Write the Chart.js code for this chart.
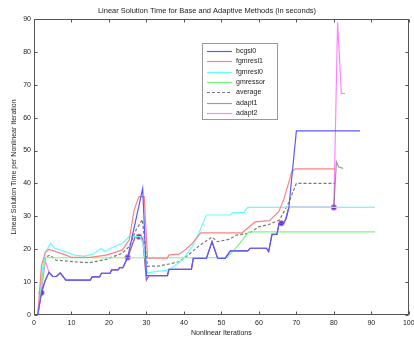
<!DOCTYPE html>
<html>
<head>
<meta charset="utf-8">
<script src="https://cdn.jsdelivr.net/npm/chart.js@4"></script>
<style>
  html, body { margin: 0; padding: 0; background: #fff; }
  canvas { display: block; }
</style>
</head>
<body>
<canvas id="solve-chart" width="414" height="339" style="width:414px;height:339px"></canvas>
<script>
// values (iteration, seconds)
const bcgsl0X = [1, 2, 3, 4, 5, 6, 7, 8.5, 15, 15.5, 17.5, 18, 20.3, 20.7, 22.4, 22.9, 23.7, 25, 29, 30, 35.6, 36, 42, 42.5, 46, 47.5, 49, 51, 52.4, 57, 57.7, 62, 62.6, 63.5, 64.8, 65.4, 66.6, 67.2, 68, 70, 87];
const bcgsl0Y = [0, 6.8, 10.5, 13, 11.7, 11.7, 12.8, 10.6, 10.6, 11.6, 11.6, 12.7, 12.7, 13.7, 13.7, 14.4, 14.4, 17.5, 38.5, 12, 12, 13.9, 13.9, 17.2, 17.2, 22.3, 17.2, 17.2, 19.5, 19.5, 20.3, 20.3, 19.3, 24.5, 24.5, 27.9, 27.9, 29.2, 32.7, 56, 56];

const fgmresl1X = [1, 2, 3, 4, 6, 8.6, 10, 15, 19.2, 21, 23.6, 25.4, 26.7, 28, 29.4, 30.3, 35.6, 36, 38.7, 40, 42, 44.5, 55.5, 59, 62.8, 65.3, 66.6, 67.9, 68.8, 69.7, 80.3];
const fgmresl1Y = [0, 15, 19, 20, 19.2, 18.2, 17.5, 17.5, 18.2, 18.8, 19.8, 22.8, 31.9, 36, 36, 17.3, 17.3, 18.3, 18.5, 19.5, 21.5, 25, 25, 28.3, 28.7, 31.4, 35, 40, 43.6, 44.4, 44.4];

const fgmresl0X = [1, 2, 3, 4.4, 5.5, 7.7, 10.8, 13.5, 15.7, 17.9, 18.8, 21, 23.6, 25.4, 28.4, 29.2, 30.2, 32.5, 36, 39.6, 42.2, 44, 46, 52.4, 53, 56, 57, 91];
const fgmresl0Y = [0, 12, 19, 21.8, 20.3, 19.5, 18.2, 17.9, 18.5, 20.3, 19.3, 20.6, 21.8, 23.8, 23.8, 21, 12.8, 13.2, 13.7, 16.7, 20.8, 25, 30.4, 30.4, 31.1, 31.1, 32.7, 32.7];

const gmressorX = [1, 2, 3, 51.5, 54.2, 57.3, 91];
const gmressorY = [0, 9, 17.4, 17.4, 20.8, 25.3, 25.3];

const averageX = [1, 2, 3, 4.2, 5.9, 10.4, 14.8, 19.2, 23.6, 25.4, 27.2, 28.9, 30.3, 33.4, 36, 38.7, 42, 44, 47.5, 48.9, 52, 54, 57.3, 60, 62.6, 65.5, 67.9, 70, 80.3];
const averageY = [0, 9.5, 17.5, 18.2, 16.7, 16.2, 15.9, 16.9, 18.8, 20.8, 25.8, 29, 14.8, 14.9, 15.5, 16.2, 19, 21, 23.7, 22.3, 23, 24.3, 24.8, 26.8, 27.5, 28.9, 34, 40, 40];

const adapt1X = [1, 2, 3, 4, 5, 6, 7, 8.5, 15, 15.5, 17.5, 18, 20.3, 20.7, 22.4, 22.9, 23.7, 25, 27, 28, 29, 30, 30.7, 35.6, 36, 42, 42.5, 46, 47.5, 49, 51, 52.4, 57, 57.7, 62, 62.6, 63.5, 64.8, 65.4, 66.6, 67.2, 68, 80, 80.7, 81.3, 82.5];
const adapt1Y = [0, 7, 10.5, 13, 11.7, 11.7, 12.8, 10.6, 10.6, 11.6, 11.6, 12.7, 12.7, 13.7, 13.7, 14.4, 14.4, 17.5, 23.8, 23.8, 23.3, 10.6, 12, 12, 13.9, 13.9, 17.2, 17.2, 22.3, 17.2, 17.2, 19.5, 19.5, 20.3, 20.3, 19.3, 24.5, 24.5, 27.9, 27.9, 29.2, 32.7, 32.7, 46.6, 45, 44.6];

const adapt2X = [1, 2, 3, 4, 5, 6, 7, 8.5, 15, 15.5, 17.5, 18, 20.3, 20.7, 22.4, 22.9, 23.7, 25, 27, 28, 29, 30, 30.7, 35.6, 36, 42, 42.5, 46, 47.5, 49, 51, 52.4, 57, 57.7, 62, 62.6, 63.5, 64.8, 65.4, 66.6, 67.2, 68, 80, 81, 82, 83];
const adapt2Y = [0, 7, 16.5, 13, 11.7, 11.7, 12.8, 10.6, 10.6, 11.6, 11.6, 12.7, 12.7, 13.7, 13.7, 14.4, 14.4, 17.5, 23.8, 23.8, 23.3, 10.6, 12, 12, 13.9, 13.9, 17.2, 17.2, 22.3, 17.2, 17.2, 19.5, 19.5, 20.3, 20.3, 19.3, 24.5, 24.5, 27.9, 27.9, 29.2, 32.7, 32.7, 89, 67.4, 67.4];

// switch points marked on the adaptive curves
const switchX = [2, 25, 28, 66, 80];
const switchY = [6.8, 17.5, 23.8, 27.9, 32.7];

const xTicks = [0, 10, 20, 30, 40, 50, 60, 70, 80, 90, 100];
const yTicks = [0, 10, 20, 30, 40, 50, 60, 70, 80, 90];

const FONT = '"Liberation Sans", Arial, sans-serif';

function pts(xs, ys) {
    return xs.map((x, i) => ({x: x, y: ys[i]}));
}

function line(label, xs, ys, color, extra) {
    return Object.assign({
        label: label,
        data: pts(xs, ys),
        borderColor: color,
        backgroundColor: color,
        borderWidth: 1.2,
        pointRadius: 0,
        tension: 0,
        fill: false,
    }, extra || {});
}

const datasets = [
    line('bcgsl0', bcgsl0X, bcgsl0Y, 'rgb(90,90,255)'),
    line('fgmresl1', fgmresl1X, fgmresl1Y, 'rgb(255,130,130)'),
    line('fgmresl0', fgmresl0X, fgmresl0Y, 'rgb(100,255,255)'),
    line('gmressor', gmressorX, gmressorY, 'rgb(120,250,120)'),
    line('average', averageX, averageY, 'rgb(120,120,120)', {borderDash: [3, 2]}),
    line('adapt1', adapt1X, adapt1Y, 'rgba(60,60,60,0.5)'),
    line('adapt2', adapt2X, adapt2Y, 'rgba(255,50,255,0.6)'),
    {
        label: 'switch',
        type: 'scatter',
        data: pts(switchX, switchY),
        showLine: false,
        pointRadius: 2.5,
        pointBackgroundColor: 'rgb(70,50,240)',
        pointBorderColor: 'rgba(255,90,120,0.8)',
        pointBorderWidth: 1.2,
    },
];

// matlab style box, inward ticks and legend
const boxPlugin = {
    id: 'box',
    afterDraw(chart) {
        const {ctx, chartArea: a, scales} = chart;
        ctx.save();
        ctx.strokeStyle = '#555';
        ctx.lineWidth = 1;
        const L = Math.round(a.left) + 0.5, R = Math.round(a.right) - 0.5;
        const T = Math.round(a.top) + 0.5, B = Math.round(a.bottom) - 0.5;
        ctx.strokeRect(L, T, R - L, B - T);
        ctx.beginPath();
        xTicks.forEach(v => {
            const px = Math.round(scales.x.getPixelForValue(v)) + 0.5;
            ctx.moveTo(px, B); ctx.lineTo(px, B - 3);
            ctx.moveTo(px, T); ctx.lineTo(px, T + 3);
        });
        yTicks.forEach(v => {
            const py = Math.round(scales.y.getPixelForValue(v)) + 0.5;
            ctx.moveTo(L, py); ctx.lineTo(L + 3, py);
            ctx.moveTo(R, py); ctx.lineTo(R - 3, py);
        });
        ctx.stroke();

        // legend box
        const lx = 202, ly = 43, lw = 75, lh = 76;
        ctx.fillStyle = '#fff';
        ctx.fillRect(lx, ly, lw, lh);
        ctx.strokeStyle = '#999';
        ctx.strokeRect(lx + 0.5, ly + 0.5, lw, lh);
        ctx.font = '7px ' + FONT;
        ctx.textBaseline = 'middle';
        chart.data.datasets.slice(0, 7).forEach((ds, i) => {
            const y = Math.round(ly + 7.7 + i * 10.4) + 0.5;
            ctx.strokeStyle = ds.borderColor;
            ctx.lineWidth = 1.2;
            ctx.setLineDash(ds.borderDash || []);
            ctx.beginPath();
            ctx.moveTo(207, y); ctx.lineTo(232, y);
            ctx.stroke();
            ctx.setLineDash([]);
            ctx.fillStyle = '#222';
            ctx.fillText(ds.label, 236, y);
        });
        ctx.restore();
    }
};

const solveChart = new Chart(document.getElementById('solve-chart'), {
    type: 'line',
    data: {datasets: datasets},
    options: {
        responsive: false,
        animation: false,
        devicePixelRatio: 1,
        layout: {padding: {left: 0, right: 0, top: 0, bottom: 0}},
        plugins: {
            legend: {display: false},
            tooltip: {enabled: false},
            title: {
                display: true,
                text: 'Linear Solution Time for Base and Adaptive Methods (in seconds)',
                color: '#222',
                font: {family: FONT, size: 7.5, weight: 'normal'},
                padding: {top: 6, bottom: 4}
            }
        },
        scales: {
            x: {
                type: 'linear',
                min: 0,
                max: 100,
                grid: {display: false, drawTicks: false},
                border: {display: false},
                ticks: {
                    stepSize: 10, autoSkip: false, maxRotation: 0, padding: 4,
                    color: '#222', font: {family: FONT, size: 7}
                },
                title: {
                    display: true,
                    text: 'Nonlinear Iterations',
                    color: '#222',
                    font: {family: FONT, size: 7},
                    padding: {top: 0, bottom: 2}
                },
                afterFit: (s) => { s.height = 24; s.paddingLeft = 0; s.paddingRight = 0; }
            },
            y: {
                min: 0,
                max: 90,
                grid: {display: false, drawTicks: false},
                border: {display: false},
                ticks: {
                    stepSize: 10, padding: 3,
                    color: '#222', font: {family: FONT, size: 7}
                },
                title: {
                    display: true,
                    text: 'Linear Solution Time per Nonlinear Iteration',
                    color: '#222',
                    font: {family: FONT, size: 7},
                    padding: {top: 10, bottom: 0}
                },
                afterFit: (s) => { s.width = 34; s.paddingTop = 0; s.paddingBottom = 0; }
            }
        }
    },
    plugins: [boxPlugin]
});
</script>
</body>
</html>
